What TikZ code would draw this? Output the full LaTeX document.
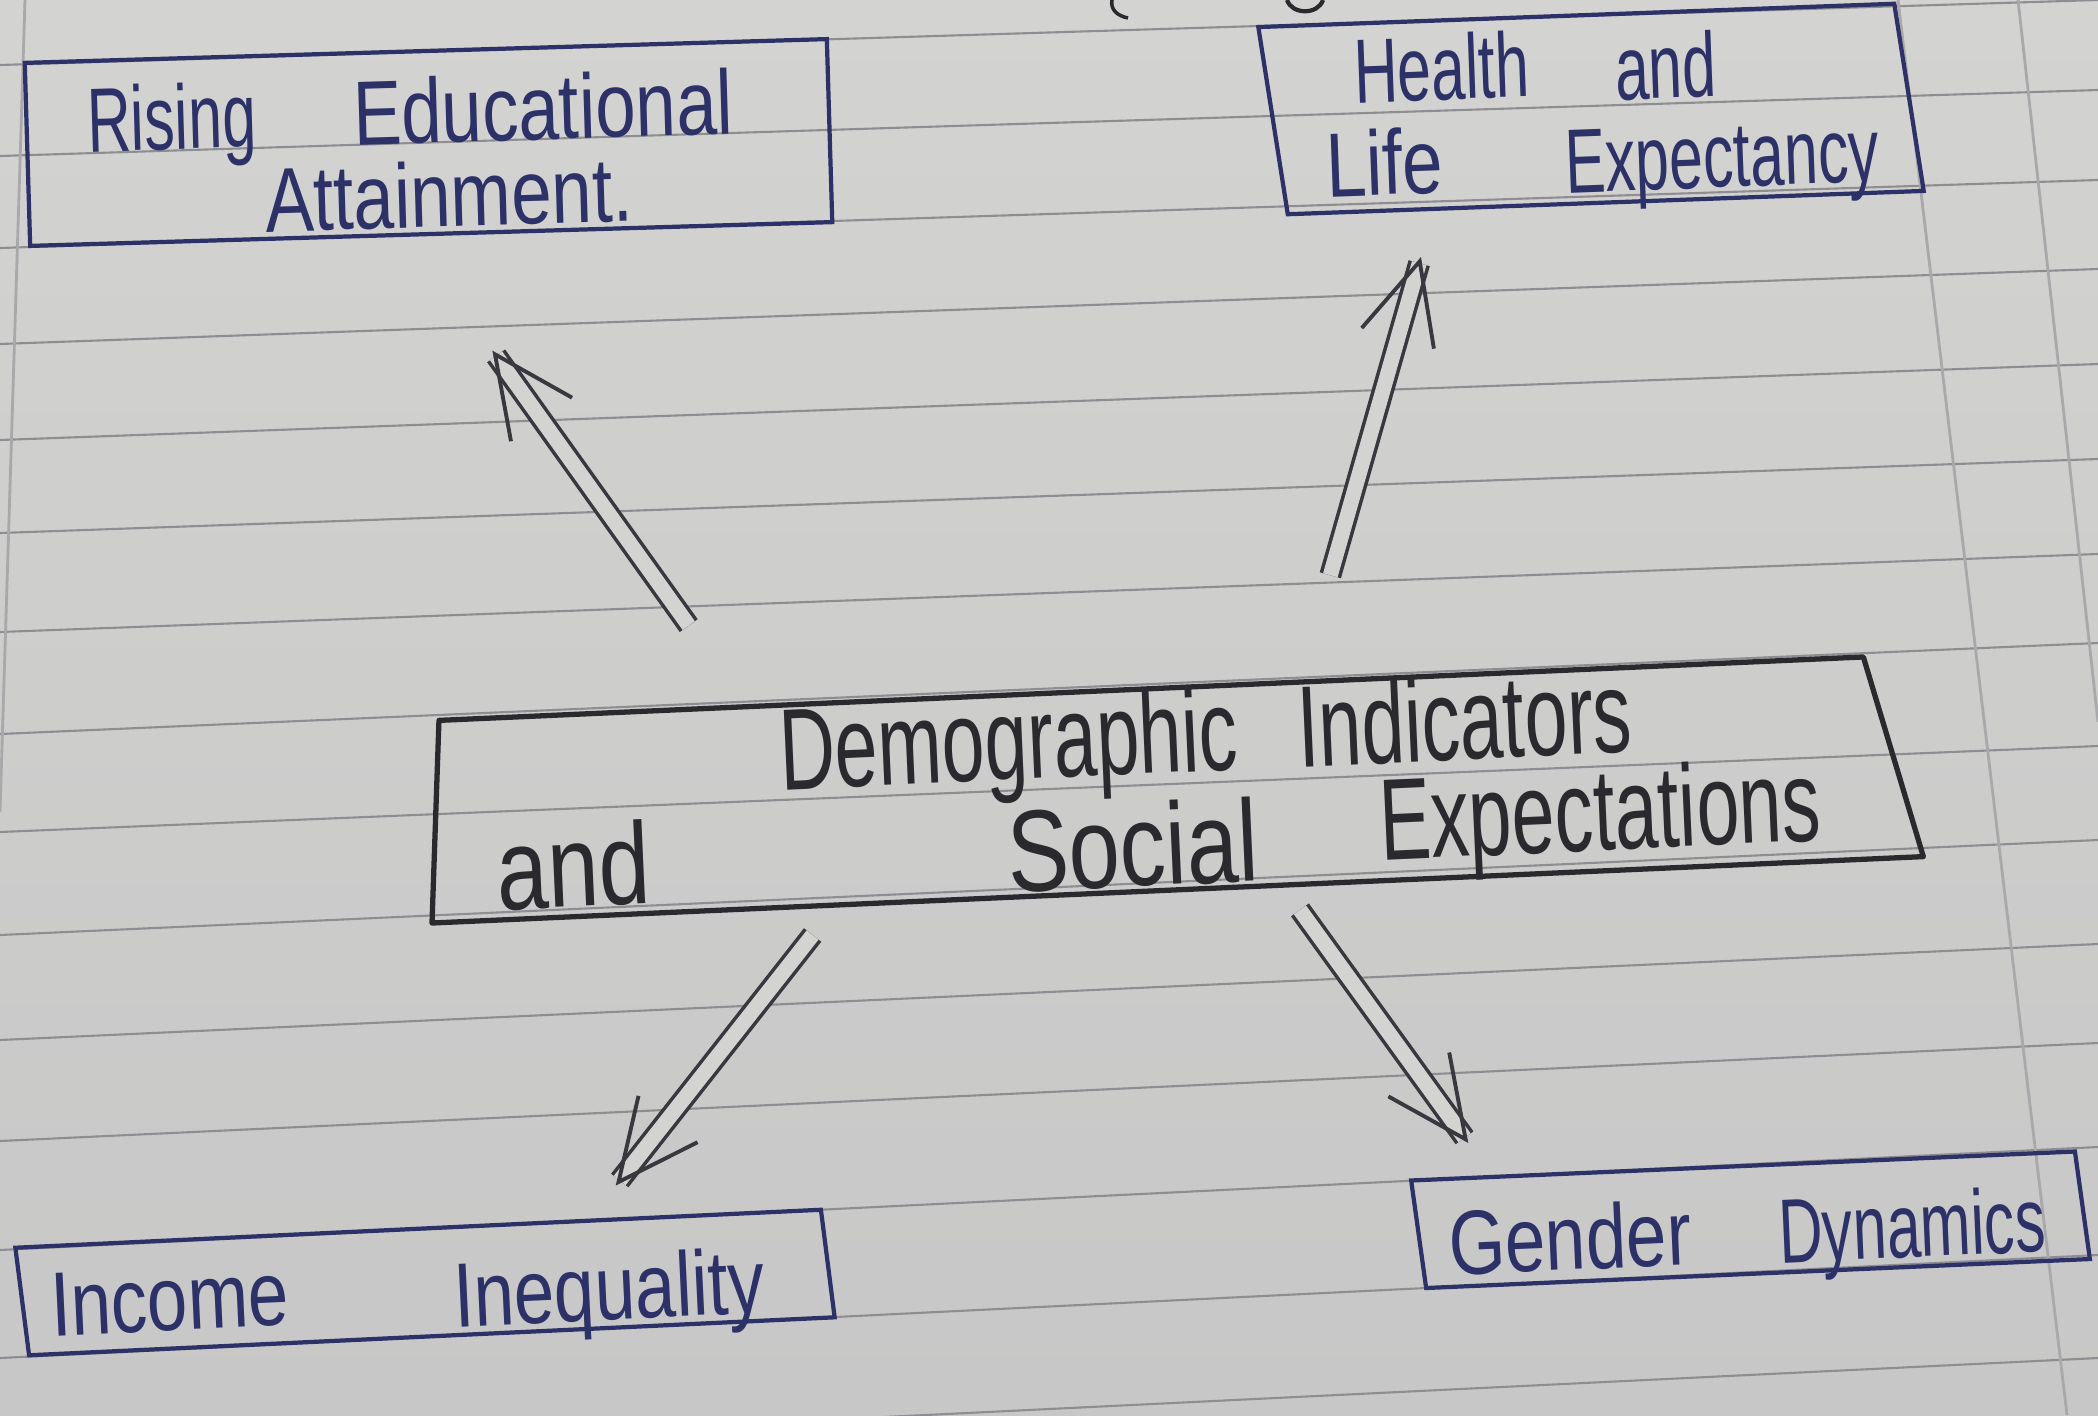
\documentclass[tikz,border=0pt]{standalone}
\usepackage{fontspec}
\setmainfont{Liberation Sans}
\newfontfamily\hwfont{Liberation Sans}[FakeStretch=0.665]
\newfontfamily\hwfontw{Liberation Sans}[FakeStretch=0.795]
\usetikzlibrary{arrows.meta,calc}
\definecolor{paper}{HTML}{D3D3D1}
\definecolor{paperdark}{HTML}{C7C7C7}
\definecolor{ruleln}{HTML}{8E8E92}
\definecolor{foldln}{HTML}{A9A9AB}
\definecolor{blueink}{HTML}{2C3168}
\definecolor{blackink}{HTML}{2A2A2E}
\definecolor{grayink}{HTML}{38383E}
\begin{document}
\begin{tikzpicture}[x=0.01cm,y=-0.01cm,
  box/.style={draw=blueink, line width=1.2pt, rectangle, inner sep=0pt, outer sep=0pt},
  hw/.style={font=\hwfont\fontsize{26}{26}\selectfont, text=blueink, inner sep=0pt, outer sep=0pt, anchor=base west},
  hww/.style={hw, font=\hwfontw\fontsize{26}{26}\selectfont},
  hwc/.style={hw, font=\hwfont\fontsize{33}{33}\selectfont, text=blackink},
  hwcw/.style={hwc, font=\hwfontw\fontsize{33}{33}\selectfont},
  ruling/.style={draw=ruleln, line width=0.6pt},
  fold/.style={draw=foldln, line width=0.8pt},
  dbl/.style={draw=grayink, line width=1pt, double=paper, double distance=0.15cm,
    -{Straight Barb[length=0.8cm,width=0.75cm,line width=1.1pt]}},
]
\useasboundingbox (0,0) rectangle (2098,1415);
\shade[top color=paper, bottom color=paperdark] (0,0) rectangle (2098,1415);
% ruled paper
\foreach \a/\b in {65/0,156/90,248/180,344/269,440/364,533/459,632/554,734/643,832/746,935/840,1040/944,1141/1043,1250/1147,1358/1255,1460/1358}
  \draw[ruling] (0,\a) -- (2098,\b);
\draw[fold] (1898,0) -- (2067,1415);
\draw[fold] (2018,0) -- (2098,722);
\draw[fold] (25,0) -- (0,812);
% ink fragments at the top edge
\draw[blackink, line width=1pt] (1112,0) .. controls (1110,10) and (1118,16) .. (1128,18);
\draw[blackink, line width=1.2pt] (1287,0) .. controls (1292,15) and (1318,15) .. (1323,0);

% boxes
\node[box, minimum width=8.02cm, minimum height=1.83cm, rotate=1.7] (rise) at (428.5,142.5) {};
\node[box, minimum width=6.36cm, minimum height=1.88cm, rotate=2.1, xslant=-0.12] (health) at (1591,109) {};
\node[rectangle, minimum width=14.92cm, minimum height=2.02cm, inner sep=0pt, outer sep=0pt,
  rotate=2.55, anchor=south west] (demo) at (432,923) {};
\draw[blackink, line width=1.5pt, line join=round] (demo.south west) -- (demo.south east)
  -- ($(demo.north west)!0.9658!(demo.north east)$) -- ($(demo.north west)!0.0107!(demo.north east)$) -- cycle;
\node[box, minimum width=8.06cm, minimum height=1.08cm, rotate=2.7, xslant=-0.08] (income) at (425,1282.5) {};
\node[box, minimum width=6.64cm, minimum height=1.08cm, rotate=2.5, xslant=-0.095] (gender) at (1750.5,1219.75) {};

% texts
\node[hw, rotate=1.7] (tRising) at (88,152) {Rising};
\node[hww, rotate=1.7] (tEdu) at (354,145) {Educational};
\node[hww, rotate=1.7] (tAtt) at (266,232) {Attainment.};
\node[hw, rotate=2.1] (tHealth) at (1355,103) {Health};
\node[hw, rotate=2.1] (tAnd) at (1616,100) {and};
\node[hww, rotate=2.1] (tLife) at (1327,197) {Life};
\node[hw, rotate=2.1] (tExp) at (1566,193) {Expectancy};
\node[hwc, rotate=2.55] (tDemo) at (781,790) {Demographic};
\node[hwc, rotate=2.55] (tInd) at (1299,767) {Indicators};
\node[hwcw, rotate=2.55] (tAnd2) at (498,910) {and};
\node[hwcw, rotate=2.55] (tSoc) at (1009,892) {Social};
\node[hwc, rotate=2.55] (tExp2) at (1381,860) {Expectations};
\node[hww, rotate=2.7] (tInc) at (52,1336) {Income};
\node[hww, rotate=2.7] (tIneq) at (455,1327) {Inequality};
\node[hww, rotate=2.5] (tGen) at (1450,1275) {Gender};
\node[hw, rotate=2.5] (tDyn) at (1780,1263) {Dynamics};

% arrows
\draw[dbl, shorten <=0.996cm, shorten >=1.424cm]
  ($(demo.north west)!0.217!(demo.north east)$) -- ($(rise.south west)!0.473!(rise.south east)$);
\draw[dbl, shorten <=1.11cm, shorten >=0.50cm]
  ($(demo.north west)!0.588!(demo.north east)$) -- ($(health.south west)!0.231!(health.south east)$);
\draw[dbl, shorten <=0.381cm, shorten >=0.447cm]
  ($(demo.south west)!0.271!(demo.south east)$) -- ($(income.north west)!0.711!(income.north east)$);
\draw[dbl, shorten <=0.305cm, shorten >=0.418cm]
  ($(demo.south west)!0.570!(demo.south east)$) -- ($(gender.north west)!0.123!(gender.north east)$);
\end{tikzpicture}
\end{document}
